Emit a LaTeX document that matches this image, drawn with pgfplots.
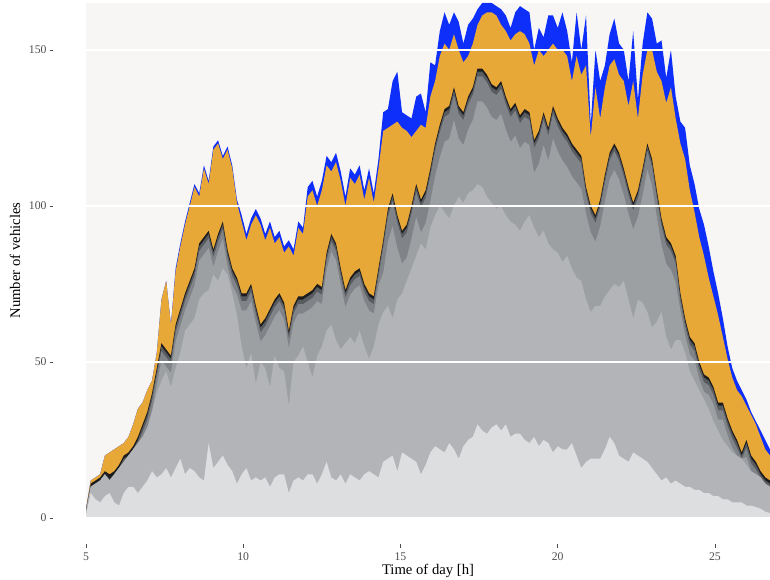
\documentclass[border=0pt]{standalone}
\usepackage{pgfplots}
\usepackage{pgfplotstable}
\pgfplotsset{compat=1.18}
\usepackage{fontspec}
\setmainfont{Liberation Serif}

\definecolor{panelbg}{RGB}{247,246,245}
\definecolor{tickgray}{RGB}{77,77,77}
\definecolor{cblue}{RGB}{14,46,250}
\definecolor{corange}{RGB}{232,168,56}
\definecolor{cblack}{RGB}{28,28,30}
\definecolor{cdark}{RGB}{88,91,95}
\definecolor{cgrayA}{RGB}{128,131,135}
\definecolor{cgrayB}{RGB}{157,160,163}
\definecolor{cgrayC}{RGB}{178,180,183}
\definecolor{cgrayD}{RGB}{221,222,224}

% cumulative stack boundaries (number of vehicles), bottom layer b1 ... top layer b8
\pgfplotstableread{
x b1 b2 b3 b4 b5 b6 b7 b8
5.00 1 2 2 2 2.2 2.5 3 3
5.15 8 10 10 10 10 11 12 12
5.30 6 11 11 11 11 12 13 13
5.45 5 12 12 12 12 13 14 14
5.60 7 14 14 14 14 15 20 20
5.75 8 12 12 12 12.5 14 21 21
5.90 5 14 14 14 14 15 22 22
6.05 4 16 16 16 16 17 23 23
6.20 8 18 18 18 19 20 24 24
6.35 10 20 20 20 20 21 26 26
6.50 10 22 22 22 22 23 30 30
6.65 8 24 24 24 25 26 35 35
6.80 10 26 26 27.5 29 30 37 37
6.95 12 29 29 31.5 33 34 41 41
7.10 15 34 34.5 37.5 39 40 44 44
7.25 13 40 42.5 45.5 47 48 53 53
7.40 14 44 50.5 53.5 55 56 70 70
7.55 16 47 48.5 51.5 53 54 76 76
7.70 13 42 46.5 49.5 51 52 62 62
7.85 16 48 56.5 59.5 61 62 79 80
8.00 19 53 61.5 64.5 66 67 87 88
8.15 14 60 66.5 69.5 71 72 94 95
8.30 16 62 70.5 73.5 75 76 100 101
8.45 15 64 74.5 77.5 79 80 106 107
8.60 13 70 82.5 85.5 87 88 103 104
8.75 12 72 84.5 87.5 89 90 112 113
8.90 24 73 86.5 89.5 91 92 107 108
9.05 16 78 80.5 83.5 85 86 118 119
9.20 18 76 85.5 88.5 90 91 120 121
9.35 20 80 89.5 92.5 94 95 115 116
9.50 17 78 80.5 83.5 85 86 118 119
9.65 15 72 74.5 77.5 79 80 112 113
9.80 11 65 71.5 74.5 76 77 101 102
9.95 14 55 66.5 69.5 71 72 95 97
10.10 16 48 66.5 69.5 71 72 89 91
10.25 12 53 69.5 72.5 74 75 94 96
10.40 13 43 62.5 65.5 67 68 97 99
10.55 12 50 56.5 59.5 61 62 94 96
10.70 13 48 58.5 61.5 63 64 89 91
10.85 10 42 61.5 64.5 66 67 93 95
11.00 13 52 64.5 67.5 69 70 88 90
11.15 14 48 66.5 69.5 71 72 90 92
11.30 14 47 63.5 66.5 68 69 85 87
11.45 8 36 54.5 57.5 59 60 87 89
11.60 12 50 62.5 65.5 67 68 84 86
11.75 13 52 65.5 68.5 70 71 93 95
11.90 12 55 65.5 68.5 70 71 91 93
12.05 14 50 66.5 69.5 71 72 103 106
12.20 14 45 67.5 70.5 72 73 105 108
12.35 11 52 69.5 72.5 74 75 100 103
12.50 14 55 68.5 71.5 73 74 105 108
12.65 18 60 79.5 82.5 84 85 113 116
12.80 13 62 85.5 88.5 90 91 111 114
12.95 12 57 82.5 85.5 87 88 114 117
13.10 14 54 74.5 77.5 79 80 108 111
13.25 11 56 67.5 70.5 72 73 100 103
13.40 14 58 71.5 74.5 76 77 109 112
13.55 13 56 73.5 76.5 78 79 107 110
13.70 12 60 74.5 77.5 79 80 110 113
13.85 14 55 69.5 72.5 74 75 102 105
14.00 15 51 66.5 69.5 71 72 109 112
14.15 14 55 65.5 68.5 70 71 101 104
14.30 13 62 74.5 77.5 79 80 112 115
14.45 18 66 78.5 86.5 88 89 124 130
14.60 19 68 88.5 96.5 98 99 125 131
14.75 20 64 93.5 101.5 103 104 126 140
14.90 15 70 86.5 94.5 96 97 127 143
15.05 21 72 81.5 89.5 91 92 125 130
15.20 20 76 83.5 91.5 93 94 124 129
15.35 19 80 89.5 97.5 99 100 122 128
15.50 18 84 96.5 104.5 106 107 124 135
15.65 14 88 91.5 99.5 101 102 126 136
15.80 17 86 94.5 102.5 104 105 125 130
15.95 21 93 101.5 109.5 111 112 135 146
16.10 23 97 109.5 117.5 119 120 140 145
16.25 22 100 115.5 123.5 125 126 148 156
16.40 21 98 120.5 128.5 130 131 152 162
16.55 24 96 121.5 129.5 131 132 150 158
16.70 22 100 127.5 135.5 137 138 155 162
16.85 19 103 121.5 129.5 131 132 150 159
17.00 23 101 119.5 127.5 129 130 146 152
17.15 25 104 124.5 132.5 134 135 148 158
17.30 26 105 127.5 135.5 137 138 152 160
17.45 30 107 133.5 141.5 143 144 158 163
17.60 28 106 133.5 141.5 143 144 161 165
17.75 27 103 131.5 139.5 141 142 162 165
17.90 29 101 128.5 136.5 138 139 162 165
18.05 30 99 127.5 135.5 137 138 161 164
18.20 28 100 129.5 137.5 139 140 158 163
18.35 30 97 124.5 132.5 134 135 156 161
18.50 26 95 120.5 128.5 130 131 153 157
18.65 27 94 122.5 130.5 132 133 155 162
18.80 27 92 118.5 126.5 128 129 156 164
18.95 25 95 120.5 128.5 130 131 155 163
19.10 24 97 119.5 127.5 129 130 152 162
19.25 26 93 110.5 118.5 120 121 145 150
19.40 23 90 113.5 121.5 123 124 150 157
19.55 25 92 119.5 127.5 129 130 148 154
19.70 24 88 114.5 122.5 124 125 150 161
19.85 21 86 121.5 129.5 131 132 152 161
20.00 23 85 117.5 125.5 127 128 150 157
20.15 22 82 114.5 122.5 124 125 150 162
20.30 22 84 112.5 120.5 122 123 148 156
20.45 24 80 109.5 117.5 119 120 140 146
20.60 20 77 107.5 115.5 117 118 148 162
20.75 16 76 105.5 113.5 115 116 142 150
20.90 18 70 97.5 103.5 105 106 145 161
21.05 19 66 91.5 97.5 99 100 122 126
21.20 19 68 88.5 94.5 96 97 138 150
21.35 19 68 93.5 99.5 101 102 128 140
21.50 22 71 101.5 107.5 109 110 138 145
21.65 26 73 108.5 114.5 116 117 145 155
21.80 24 75 111.5 117.5 119 120 147 160
21.95 20 74 108.5 114.5 116 117 142 152
22.10 19 76 103.5 109.5 111 112 140 150
22.25 18 70 97.5 103.5 105 106 132 140
22.40 21 64 92.5 98.5 100 101 140 156
22.55 20 70 96.5 102.5 104 105 128 134
22.70 19 69 103.5 109.5 111 112 142 152
22.85 18 66 111.5 117.5 119 120 150 162
23.00 16 61 106.5 112.5 114 115 150 160
23.15 14 63 96.5 102.5 104 105 143 152
23.30 12 66 87.5 93.5 95 96 140 153
23.45 13 58 81.5 87.5 89 90 133 141
23.60 11 54 79.5 85.5 87 88 138 150
23.75 12 57 75.5 81.5 83 84 128 135
23.90 11 57 66.5 69.5 71 72 120 127
24.05 10 53 58.5 61.5 63 64 115 125
24.20 10 47 52.5 55.5 57 58 105 113
24.35 9 44 50.5 53.5 55 56 98 107
24.50 9 41 44.5 47.5 49 50 90 99
24.65 8 38 40.5 43.5 45 46 84 94
24.80 8 35 39.5 42.5 44 45 77 87
24.95 7 31 36.5 39.5 41 42 71 79
25.10 7 28 31.5 34.5 36 37 65 72
25.25 6 25 31.5 34.5 36 37 58 64
25.40 6 23 26.5 29.5 31 32 51 55
25.55 5 21 22.5 25.5 27 28 45 48
25.70 5 20 20 22.5 24 25 41 44
25.85 5 19 19 19 20 21 39 41
26.00 4 17 19.5 22.5 24 25 36 38
26.15 4 15 15 17.5 19 20 33 34
26.30 3.5 14 14 15.5 17 18 30 31
26.45 3 13 13 13 14 15 26 28
26.60 2 11 11 11 12 13 22 25
26.75 1.6 10 10 10 11 12 20 22
}\vehicles

\begin{document}
\begin{tikzpicture}
\begin{axis}[
  scale only axis,
  width=513pt, height=386.25pt,
  xmin=5, xmax=26.75, ymin=0, ymax=165,
  axis on top,
  axis line style={draw=none},
  major tick length=0pt,
  tick style={draw=none},
  xtick={5,10,15,20,25},
  ytick={0,50,100,150},
  ymajorgrids,
  grid style={white, line width=1.1pt},
  axis background/.style={fill=panelbg},
  /pgf/number format/assume math mode=true,
  xlabel={Time of day [h]},
  ylabel={Number of vehicles},
  every axis x label/.style={at={(axis description cs:0.5,-0.1029)}, anchor=center, font=\fontsize{11}{13}\selectfont},
  every axis y label/.style={at={(axis description cs:-0.1038,0.5)}, rotate=90, anchor=center, font=\fontsize{11}{13}\selectfont},
  yticklabel={\pgfmathprintnumber{\tick}\hspace{2.2pt}\rule[2.4pt]{2.4pt}{0.55pt}},
  yticklabel style={anchor=east, inner sep=0pt, xshift=-24.75pt, font=\fontsize{8.8}{9.5}\selectfont, text=tickgray},
  xticklabel={\rule{0.55pt}{2.6pt}\\\pgfmathprintnumber{\tick}},
  xticklabel style={anchor=north, inner sep=0pt, align=center, yshift=-19.5pt, font=\fontsize{8.8}{9.5}\selectfont, text=tickgray},
]
\coordinate (pSW) at (rel axis cs:0,0);
\addplot[draw=none, fill=cblue]   table[x=x, y=b8] {\vehicles} \closedcycle;
\addplot[draw=none, fill=corange] table[x=x, y=b7] {\vehicles} \closedcycle;
\addplot[draw=none, fill=cblack]  table[x=x, y=b6] {\vehicles} \closedcycle;
\addplot[draw=none, fill=cdark]   table[x=x, y=b5] {\vehicles} \closedcycle;
\addplot[draw=none, fill=cgrayA]  table[x=x, y=b4] {\vehicles} \closedcycle;
\addplot[draw=none, fill=cgrayB]  table[x=x, y=b3] {\vehicles} \closedcycle;
\addplot[draw=none, fill=cgrayC]  table[x=x, y=b2] {\vehicles} \closedcycle;
\addplot[draw=none, fill=cgrayD]  table[x=x, y=b1] {\vehicles} \closedcycle;
\end{axis}
\pgfresetboundingbox
\path[use as bounding box] (pSW) ++(-64.5pt,-45.75pt) rectangle ++(577.5pt,434.25pt);
\end{tikzpicture}
\end{document}
